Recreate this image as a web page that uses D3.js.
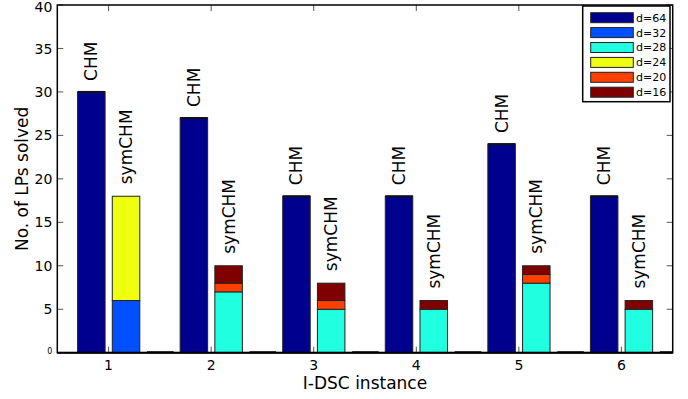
<!DOCTYPE html>
<html>
<head>
<meta charset="utf-8">
<script src="https://cdn.jsdelivr.net/npm/d3@7"></script>
<style>
  body { margin: 0; background: #fff; }
  text { font-family: "DejaVu Sans", sans-serif; }
</style>
</head>
<body>
<svg id="svg1" width="688" height="399"></svg>
<script>
var instances = [1, 2, 3, 4, 5, 6];
var chmValues = [30, 27, 18, 18, 24, 18];
var d32 = [6, 0, 0, 0, 0, 0];
var d28 = [0, 7, 5, 5, 8, 5];
var d24 = [12, 0, 0, 0, 0, 0];
var d20 = [0, 1, 1, 0, 1, 0];
var d16 = [0, 2, 2, 1, 1, 1];
var legendLabels = ['d=64', 'd=32', 'd=28', 'd=24', 'd=20', 'd=16'];
var legendColors = ['#00008f', '#0050ff', '#20ffdf', '#efff10', '#ff4000', '#800000'];
var yTicks = [0, 5, 10, 15, 20, 25, 30, 35, 40];

var plotLeft = 57.3, plotRight = 672.7, plotTop = 5, plotBottom = 352.7;
var svg = d3.select('#svg1');

var x = d3.scaleLinear().domain([0.5, 6.5]).range([plotLeft, plotRight]);
var y = d3.scaleLinear().domain([0, 40]).range([plotBottom, plotTop]);

// stacked symCHM data
var rows = instances.map(function (c, i) {
    return { inst: c, d32: d32[i], d28: d28[i], d24: d24[i], d20: d20[i], d16: d16[i] };
});
var keys = ['d32', 'd28', 'd24', 'd20', 'd16'];
var keyColor = { d32: legendColors[1], d28: legendColors[2], d24: legendColors[3], d20: legendColors[4], d16: legendColors[5] };
var stacked = d3.stack().keys(keys)(rows);

var barW = 27.5;

// inward ticks, all four sides
var ticks = svg.append('g').attr('stroke', '#555').attr('stroke-width', 1);
yTicks.forEach(function (t) {
    ticks.append('line').attr('x1', plotLeft).attr('x2', plotLeft + 6).attr('y1', y(t)).attr('y2', y(t));
    ticks.append('line').attr('x1', plotRight).attr('x2', plotRight - 6).attr('y1', y(t)).attr('y2', y(t));
});
instances.forEach(function (c) {
    ticks.append('line').attr('x1', x(c)).attr('x2', x(c)).attr('y1', plotBottom).attr('y2', plotBottom - 6);
    ticks.append('line').attr('x1', x(c)).attr('x2', x(c)).attr('y1', plotTop).attr('y2', plotTop + 6);
});

// CHM bars
svg.append('g').selectAll('rect').data(chmValues).enter().append('rect')
    .attr('x', function (d, i) { return x(instances[i]) - 31; })
    .attr('y', function (d) { return y(d); })
    .attr('width', barW)
    .attr('height', function (d) { return y(0) - y(d); })
    .attr('fill', legendColors[0])
    .attr('stroke', '#222').attr('stroke-width', 1);

svg.append('g').selectAll('line').data(chmValues).enter().append('line')
    .attr('x1', function (d, i) { return x(instances[i]) - 31; })
    .attr('x2', function (d, i) { return x(instances[i]) - 31 + barW; })
    .attr('y1', function (d) { return y(d); })
    .attr('y2', function (d) { return y(d); })
    .attr('stroke', '#111').attr('stroke-width', 2);

// symCHM stacked bars
stacked.forEach(function (layer) {
    svg.append('g').selectAll('rect').data(layer.filter(function (s) { return s[1] > s[0]; })).enter().append('rect')
        .attr('x', function (s) { return x(s.data.inst) + 3.7; })
        .attr('y', function (s) { return y(s[1]); })
        .attr('width', barW)
        .attr('height', function (s) { return y(s[0]) - y(s[1]); })
        .attr('fill', keyColor[layer.key])
        .attr('stroke', '#222').attr('stroke-width', 1);
});

// empty third bar in each group (clipped at the right axis)
svg.append('g').selectAll('line').data(instances).enter().append('line')
    .attr('x1', function (c) { return x(c) + 38.4; })
    .attr('x2', function (c) { return Math.min(x(c) + 65, plotRight); })
    .attr('y1', y(0) - 0.5).attr('y2', y(0) - 0.5)
    .attr('stroke', '#111').attr('stroke-width', 2);

// rotated bar labels
var symTotals = instances.map(function (c, i) { return d32[i] + d28[i] + d24[i] + d20[i] + d16[i]; });
svg.append('g').selectAll('text').data(chmValues).enter().append('text')
    .attr('transform', function (d, i) {
        return 'translate(' + (x(instances[i]) - 31 + barW / 2 + 6) + ',' + (y(d) - 11) + ') rotate(-90)';
    })
    .attr('font-size', 17).text('CHM');
svg.append('g').selectAll('text').data(symTotals).enter().append('text')
    .attr('transform', function (d, i) {
        return 'translate(' + (x(instances[i]) + 3.7 + barW / 2 + 6) + ',' + (y(d) - 12) + ') rotate(-90)';
    })
    .attr('font-size', 17).text('symCHM');

// axes box
svg.append('rect').attr('x', plotLeft).attr('y', plotTop).attr('width', plotRight - plotLeft).attr('height', plotBottom - plotTop)
    .attr('fill', 'none').attr('stroke', '#000').attr('stroke-width', 1.5);
svg.append('line').attr('x1', plotLeft).attr('x2', plotRight).attr('y1', plotBottom).attr('y2', plotBottom)
    .attr('stroke', '#000').attr('stroke-width', 2);

// tick labels
svg.append('g').selectAll('text').data(yTicks).enter().append('text')
    .attr('x', plotLeft - 5)
    .attr('y', function (t) { return t === 40 ? y(t) + 2 : y(t); })
    .attr('dy', function (t) { return t === 0 ? '0.2em' : '0.36em'; })
    .attr('text-anchor', 'end')
    .attr('font-size', function (t) { return t === 0 ? 8 : 14; })
    .text(function (t) { return t; });
svg.append('g').selectAll('text').data(instances).enter().append('text')
    .attr('x', function (c) { return x(c); })
    .attr('y', plotBottom + 17)
    .attr('text-anchor', 'middle')
    .attr('font-size', 14)
    .text(function (c) { return c; });

// axis titles
svg.append('text').attr('x', (plotLeft + plotRight) / 2).attr('y', 389).attr('text-anchor', 'middle')
    .attr('font-size', 17).text('I-DSC instance');
svg.append('text').attr('transform', 'translate(28,' + ((plotTop + plotBottom) / 2) + ') rotate(-90)')
    .attr('text-anchor', 'middle').attr('font-size', 17).text('No. of LPs solved');

// legend
var lg = svg.append('g');
lg.append('rect').attr('x', 582.7).attr('y', 6).attr('width', 87.3).attr('height', 95.7)
    .attr('fill', '#fff').attr('stroke', '#000').attr('stroke-width', 1.5);
legendLabels.forEach(function (lab, i) {
    var cy = 17.7 + i * 14.9;
    lg.append('rect').attr('x', 590.7).attr('y', cy - 5).attr('width', 42.6).attr('height', 10)
        .attr('fill', legendColors[i]).attr('stroke', '#222').attr('stroke-width', 1);
    lg.append('text').attr('x', 636).attr('y', cy).attr('dy', '0.36em')
        .attr('font-size', 11).text(lab);
});
</script>
</body>
</html>
